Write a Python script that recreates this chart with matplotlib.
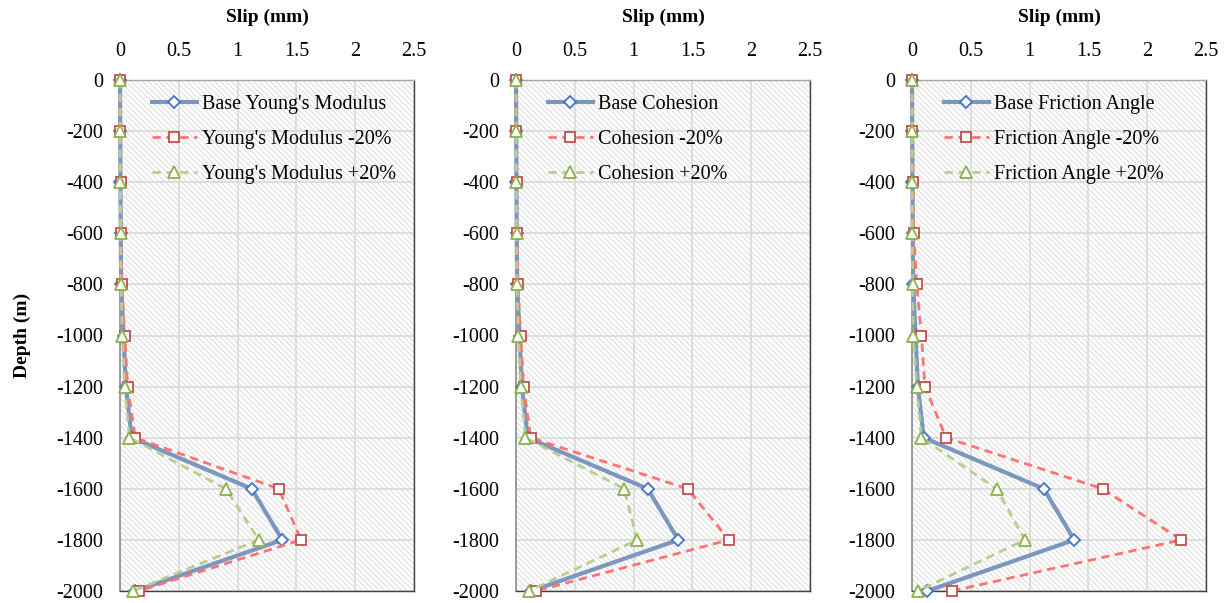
import matplotlib.pyplot as plt
from matplotlib.patches import Rectangle

# Depth levels (m)
depth = [0, -200, -400, -600, -800, -1000, -1200, -1400, -1600, -1800, -2000]

# Slip (mm) for each sensitivity case
base_slip = [0, 0.002, 0.004, 0.006, 0.01, 0.03, 0.05, 0.10, 1.12, 1.38, 0.13]

young_minus = [0, 0.002, 0.005, 0.008, 0.015, 0.04, 0.065, 0.13, 1.35, 1.54, 0.16]
young_plus = [0, 0.001, 0.003, 0.005, 0.008, 0.02, 0.04, 0.08, 0.90, 1.18, 0.11]

cohesion_minus = [0, 0.002, 0.005, 0.008, 0.015, 0.04, 0.065, 0.125, 1.46, 1.81, 0.17]
cohesion_plus = [0, 0.001, 0.003, 0.005, 0.008, 0.02, 0.04, 0.08, 0.92, 1.03, 0.11]

friction_minus = [0, 0.004, 0.008, 0.015, 0.04, 0.08, 0.11, 0.29, 1.62, 2.29, 0.34]
friction_plus = [0, 0.001, 0.002, 0.003, 0.005, 0.01, 0.04, 0.08, 0.72, 0.96, 0.05]

panels = [
    ("Base Young's Modulus", "Young's Modulus -20%", "Young's Modulus +20%", young_minus, young_plus),
    ("Base Cohesion", "Cohesion -20%", "Cohesion +20%", cohesion_minus, cohesion_plus),
    ("Base Friction Angle", "Friction Angle -20%", "Friction Angle +20%", friction_minus, friction_plus),
]

x_ticks = [0, 0.5, 1, 1.5, 2, 2.5]
y_ticks = list(range(0, -2001, -200))

plt.rcParams['font.family'] = ['Liberation Serif', 'DejaVu Serif']
plt.rcParams['axes.unicode_minus'] = False
plt.rcParams['hatch.linewidth'] = 0.5

fig = plt.figure(figsize=(12.27, 6.03), dpi=100)

lefts = [120 / 1227, 516 / 1227, 912 / 1227]
width = 294 / 1227
bottom = 1 - 591 / 603
height = 511 / 603

for i, (lab_base, lab_minus, lab_plus, minus, plus) in enumerate(panels):
    ax = fig.add_axes([lefts[i], bottom, width, height])
    ax.set_axisbelow(True)

    # fine hatched background
    bg = Rectangle((0, 0), 1, 1, transform=ax.transAxes, fill=False,
                   hatch='\\\\\\\\\\\\', edgecolor='#cfcfcf', linewidth=0, zorder=0.1)
    ax.add_patch(bg)

    ax.plot(base_slip, depth, color='#7b97bd', linewidth=3, marker='D', markersize=6,
            markerfacecolor='white', markeredgecolor='#4472c4', markeredgewidth=1.3,
            label=lab_base, clip_on=False, zorder=3)
    ax.plot(minus, depth, color='#ff7373', linewidth=2, linestyle=(0, (3, 2)), marker='s',
            markersize=7, markerfacecolor='white', markeredgecolor='#c0504d',
            markeredgewidth=1.3, label=lab_minus, clip_on=False, zorder=4)
    ax.plot(plus, depth, color='#b9cc94', linewidth=2, linestyle=(0, (3, 2)), marker='^',
            markersize=8, markerfacecolor='white', markeredgecolor='#8cb04a',
            markeredgewidth=1.3, label=lab_plus, clip_on=False, zorder=5)

    ax.set_xlim(0, 2.5)
    ax.set_ylim(-2000, 0)
    ax.set_xticks(x_ticks)
    ax.set_xticklabels(['0', '0.5', '1', '1.5', '2', '2.5'])
    ax.set_yticks(y_ticks)
    ax.xaxis.tick_top()
    ax.xaxis.set_label_position('top')
    ax.tick_params(axis='x', length=0, pad=14, labelsize=14.5)
    ax.tick_params(axis='y', length=0, pad=12, labelsize=14.5)
    ax.grid(True, color='#d9d9d9', linewidth=1.2)

    for side in ['top', 'bottom', 'right']:
        ax.spines[side].set_color('#404040')
        ax.spines[side].set_linewidth(1)
    ax.spines['left'].set_color('#8c8c8c')
    ax.spines['left'].set_linewidth(1.2)
    ax.spines['top'].set_color('#a6a6a6')

    ax.set_xlabel('Slip (mm)', fontsize=14, fontweight='bold', labelpad=14)
    if i == 0:
        ax.set_ylabel('Depth (m)', fontsize=14, fontweight='bold', labelpad=18)

    ax.legend(loc='upper left', bbox_to_anchor=(0.11, 0.97), borderaxespad=0, borderpad=0,
              frameon=False, fontsize=14.5, labelspacing=0.78, handlelength=2.2,
              handletextpad=0.25)

plt.savefig('out.png', dpi=100)
plt.close()
